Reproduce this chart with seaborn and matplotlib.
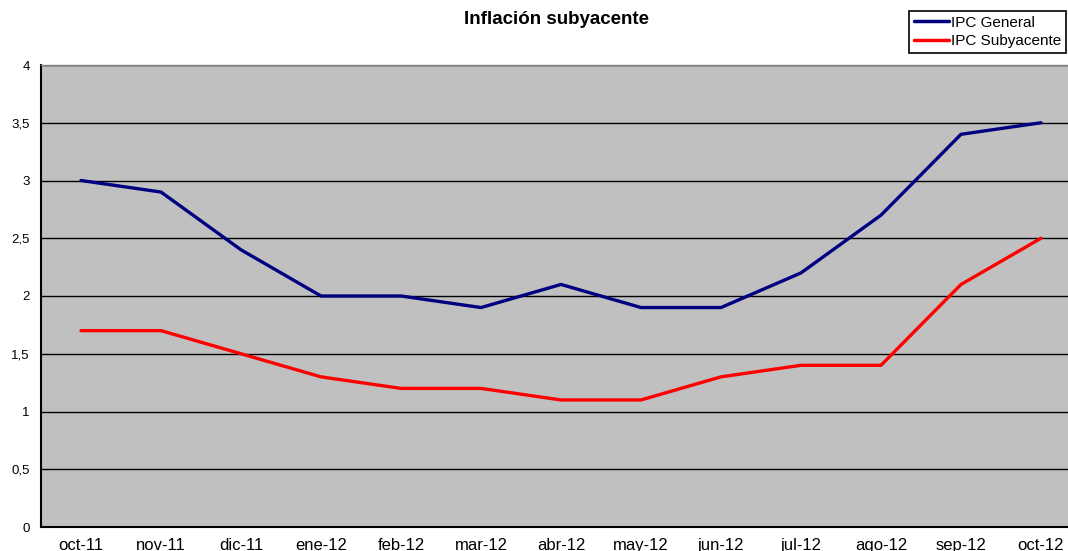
import numpy as np
import pandas as pd
import matplotlib
matplotlib.use("Agg")
import matplotlib.pyplot as plt
import seaborn as sns

meses = ["oct-11", "nov-11", "dic-11", "ene-12", "feb-12", "mar-12", "abr-12",
         "may-12", "jun-12", "jul-12", "ago-12", "sep-12", "oct-12"]
ipc_general = [3.0, 2.9, 2.4, 2.0, 2.0, 1.9, 2.1, 1.9, 1.9, 2.2, 2.7, 3.4, 3.5]
ipc_subyacente = [1.7, 1.7, 1.5, 1.3, 1.2, 1.2, 1.1, 1.1, 1.3, 1.4, 1.4, 2.1, 2.5]
y_ticks = [0, 0.5, 1, 1.5, 2, 2.5, 3, 3.5, 4]

sns.set_style("white")
plt.rcParams['font.family'] = ['Liberation Sans', 'DejaVu Sans']
plt.rcParams['text.color'] = 'black'
plt.rcParams['xtick.labelcolor'] = 'black'
plt.rcParams['ytick.labelcolor'] = 'black'

df = pd.DataFrame({
    'pos': list(range(len(meses))) * 2,
    'valor': ipc_general + ipc_subyacente,
    'serie': ['IPC General'] * len(meses) + ['IPC Subyacente'] * len(meses),
})

fig = plt.figure(figsize=(10.68, 5.51), dpi=100)
ax = fig.add_axes([41 / 1068, 24 / 551, 1040 / 1068, 462 / 551])
ax.set_facecolor('#C0C0C0')

sns.lineplot(data=df, x='pos', y='valor', hue='serie',
             palette={'IPC General': '#000080', 'IPC Subyacente': '#FF0000'},
             linewidth=2.4, ax=ax, legend=False, zorder=3)

ax.set_xlim(-0.5, len(meses) - 0.5)
ax.set_ylim(0, 4)
ax.set_yticks(y_ticks)
ax.set_yticklabels([f"{v:g}".replace('.', ',') for v in y_ticks], fontsize=9.5, color='black')
ax.set_xticks(range(len(meses)))
ax.set_xticklabels(meses, fontsize=12, color='black')
ax.set_xticks(np.arange(-0.5, len(meses), 1), minor=True)
ax.tick_params(axis='x', which='major', length=0, pad=8)
ax.tick_params(axis='x', which='minor', length=5, width=1.2, direction='out', color='black')
ax.tick_params(axis='y', length=5, width=1.2, direction='out', color='black', pad=3)
ax.grid(axis='y', color='black', linewidth=1, zorder=1)
ax.set_axisbelow(True)
ax.set_xlabel('')
ax.set_ylabel('')

ax.spines['left'].set_color('black')
ax.spines['left'].set_linewidth(1.5)
ax.spines['bottom'].set_color('black')
ax.spines['bottom'].set_linewidth(1.5)
ax.spines['top'].set_color('#808080')
ax.spines['top'].set_linewidth(1)
ax.spines['right'].set_visible(False)

fig.text(557 / 1068, 1 - 19 / 551, 'Inflación subyacente', ha='center', va='center',
         fontsize=13.5, fontweight='bold', color='black')

handles = [plt.Line2D([], [], color='#000080', linewidth=2.5),
           plt.Line2D([], [], color='#FF0000', linewidth=2.5)]
leg = fig.legend(handles, ['IPC General', 'IPC Subyacente'], loc='upper right',
                 bbox_to_anchor=(1066 / 1068, 1 - 11 / 551), fontsize=11,
                 frameon=True, fancybox=False, edgecolor='black', framealpha=1,
                 handlelength=2.3, handletextpad=0.15, borderpad=0.3,
                 labelspacing=0.3, borderaxespad=0, labelcolor='black')
leg.get_frame().set_linewidth(1.2)

fig.savefig('out.png', dpi=100)
